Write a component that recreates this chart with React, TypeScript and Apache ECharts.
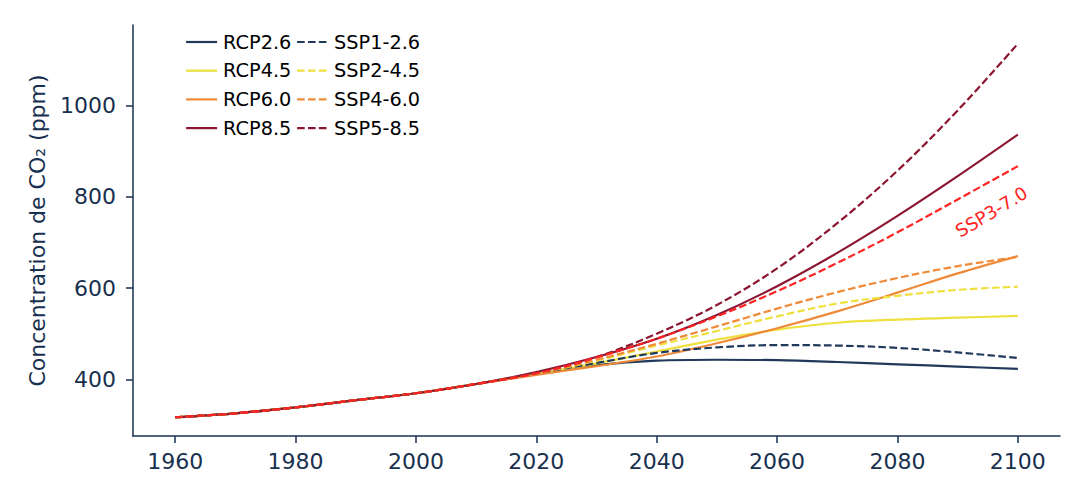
import React, { useEffect, useRef } from "react";
import * as echarts from "echarts";

const years = [1960, 1970, 1980, 1990, 2000, 2010, 2020, 2030, 2040, 2050, 2060, 2070, 2080, 2090, 2100];
const historical = [317, 325.7, 338.7, 354.4, 369.6, 389.9];

const rcp26 = [412, 431, 441, 443, 442, 438, 433, 428, 423];
const rcp45 = [412, 435, 461, 487, 509, 524, 531, 535, 539];
const rcp60 = [410, 429, 450, 479, 512, 549, 590, 632, 670];
const rcp85 = [416, 449, 489, 541, 604, 677, 758, 845, 936];
const ssp126 = [413, 436, 458, 470, 475, 474, 469, 459, 447];
const ssp245 = [413, 441, 474, 506, 538, 566, 583, 596, 603];
const ssp460 = [413, 443, 478, 516, 555, 591, 622, 648, 668];
const ssp370 = [413, 448, 489, 538, 593, 655, 722, 794, 867];
const ssp585 = [414, 449, 500, 563, 643, 742, 857, 989, 1135];

const xTicks = [1960, 1980, 2000, 2020, 2040, 2060, 2080, 2100];
const yTicks = [400, 600, 800, 1000];

const NAVY = "#18304f";
const FONT = "DejaVu Sans";

const C_RCP26 = "#21395a";
const C_YEL = "#ede03f";
const C_ORA = "#ee8a38";
const C_DRED = "#8c1530";
const C_RED = "#ff2424";

const build = (proj: number[]) =>
  years.map((y, i) => [y, i < historical.length ? historical[i] : proj[i - historical.length]]);

const DASH = [7.6, 3.3];

export default function App() {
  const ref = useRef<HTMLDivElement>(null);
  useEffect(() => {
    if (!ref.current) return;
    const chart = echarts.init(ref.current, undefined, { renderer: "svg" });
    const mk = (name: string, data: number[], color: string, dashed: boolean, extra: any = {}) => ({
      name,
      type: "line",
      data: build(data),
      smooth: 0.35,
      showSymbol: false,
      symbol: "none",
      lineStyle: { color, width: 2.2, type: dashed ? DASH : "solid", cap: "butt" },
      itemStyle: { color },
      emphasis: { disabled: true },
      ...extra,
    });
    const legendBase = {
      orient: "vertical",
      top: 19,
      itemWidth: 31,
      itemHeight: 14,
      itemGap: 8.7,
      itemStyle: { opacity: 0 },
      lineStyle: { width: 2.2 },
      textStyle: { color: "#000", fontSize: 19.3, fontFamily: FONT, lineHeight: 20, padding: [0, 0, 0, 1] },
      selectedMode: false,
    };
    chart.setOption({
      animation: false,
      grid: { left: 125, right: 17, top: 17, bottom: 57 },
      xAxis: {
        type: "value",
        min: 1953,
        max: 2107,
        splitLine: { show: false },
        axisLine: { lineStyle: { color: NAVY, width: 1.5 } },
        axisTick: { show: true, length: 7, lineStyle: { color: NAVY, width: 1.5 }, customValues: xTicks },
        axisLabel: {
          color: NAVY,
          fontSize: 22,
          fontFamily: FONT,
          margin: 14,
          customValues: xTicks,
          formatter: (v: number) => String(v),
        },
      },
      yAxis: {
        type: "value",
        min: 276,
        max: 1176,
        name: "Concentration de CO₂ (ppm)",
        nameLocation: "middle",
        nameGap: 85,
        nameTextStyle: { color: NAVY, fontSize: 22, fontFamily: FONT },
        splitLine: { show: false },
        axisLine: { show: true, lineStyle: { color: NAVY, width: 1.5 } },
        axisTick: { show: true, length: 7, lineStyle: { color: NAVY, width: 1.5 }, customValues: yTicks },
        axisLabel: {
          color: NAVY,
          fontSize: 22,
          fontFamily: FONT,
          margin: 17,
          customValues: yTicks,
          formatter: (v: number) => String(v),
        },
      },
      legend: [
        { ...legendBase, left: 172, data: ["RCP2.6", "RCP4.5", "RCP6.0", "RCP8.5"] },
        { ...legendBase, left: 283, data: ["SSP1-2.6", "SSP2-4.5", "SSP4-6.0", "SSP5-8.5"] },
      ],
      series: [
        mk("RCP2.6", rcp26, C_RCP26, false),
        mk("RCP4.5", rcp45, C_YEL, false),
        mk("RCP6.0", rcp60, C_ORA, false),
        mk("RCP8.5", rcp85, C_DRED, false),
        mk("SSP1-2.6", ssp126, C_RCP26, true),
        mk("SSP2-4.5", ssp245, C_YEL, true),
        mk("SSP4-6.0", ssp460, C_ORA, true),
        mk("SSP5-8.5", ssp585, C_DRED, true),
        mk("SSP3-7.0", ssp370, C_RED, true, {
          markPoint: {
            symbol: "circle",
            symbolSize: 0,
            silent: true,
            label: {
              show: true,
              position: "inside",
              formatter: "SSP3-7.0",
              rotate: 31,
              color: C_RED,
              fontSize: 18,
              fontFamily: FONT,
            },
            data: [{ coord: [2095.6, 767] }],
          },
        }),
      ],
    });
    return () => chart.dispose();
  }, []);
  return <div ref={ref} style={{ width: 1069, height: 485 }} />;
}
